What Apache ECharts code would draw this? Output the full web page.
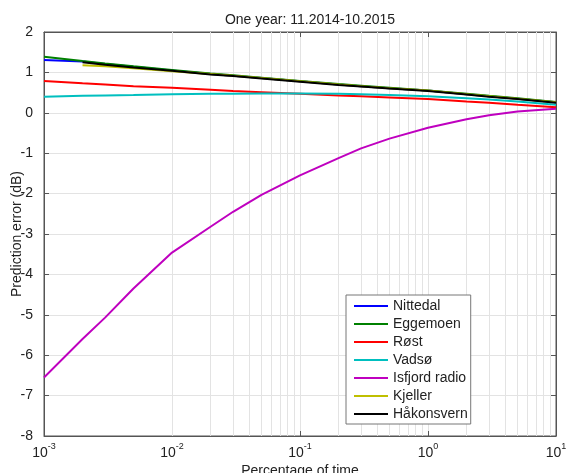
<!DOCTYPE html>
<html>
<head>
<meta charset="utf-8">
<script src="https://cdn.jsdelivr.net/npm/echarts@6/dist/echarts.min.js"></script>
<style>
html,body{margin:0;padding:0;background:#fff;}
#chart{width:568px;height:473px;}
</style>
</head>
<body>
<div id="chart"></div>
<script>
// percentage of time (x, log scale)
var xs = [0.001, 0.002, 0.003, 0.005, 0.01, 0.02, 0.03, 0.05, 0.1, 0.2, 0.3, 0.5, 1, 2, 3, 5, 10];
var names = ['Nittedal', 'Eggemoen', 'Røst', 'Vadsø', 'Isfjord radio', 'Kjeller', 'Håkonsvern'];
var colors = ['#0000ff', '#008000', '#ff0000', '#00bfbf', '#bf00bf', '#bfbf00', '#000000'];

// prediction error (dB) per station
var nittedal  = [1.31, 1.27, 1.21, 1.14, 1.05, 0.96, 0.92, 0.86, 0.78, 0.70, 0.66, 0.61, 0.55, 0.46, 0.41, 0.35, 0.26];
var eggemoen  = [1.39, 1.28, 1.22, 1.15, 1.06, 0.97, 0.93, 0.87, 0.79, 0.71, 0.67, 0.62, 0.55, 0.47, 0.42, 0.36, 0.27];
var rost      = [0.79, 0.73, 0.70, 0.66, 0.62, 0.57, 0.54, 0.51, 0.47, 0.43, 0.41, 0.38, 0.34, 0.28, 0.25, 0.20, 0.14];
var vadso     = [0.40, 0.42, 0.43, 0.44, 0.46, 0.47, 0.47, 0.48, 0.48, 0.47, 0.46, 0.44, 0.41, 0.36, 0.33, 0.28, 0.20];
var isfjord   = [-6.55, -5.60, -5.07, -4.35, -3.46, -2.82, -2.45, -2.03, -1.55, -1.12, -0.88, -0.64, -0.37, -0.16, -0.06, 0.03, 0.10];
var kjeller   = [null, 1.18, 1.15, 1.10, 1.03, 0.96, 0.92, 0.86, 0.78, 0.70, 0.66, 0.61, 0.55, 0.46, 0.41, 0.35, 0.26];
var hakonsvern= [null, 1.25, 1.19, 1.12, 1.04, 0.95, 0.91, 0.85, 0.77, 0.69, 0.65, 0.60, 0.54, 0.45, 0.40, 0.34, 0.25];

var allData = [nittedal, eggemoen, rost, vadso, isfjord, kjeller, hakonsvern];

// minor log grid lines (2..9 per decade)
var minorX = [];
[0.001, 0.01, 0.1, 1].forEach(function(d){
	for (var k = 2; k <= 9; k++) minorX.push(+(d * k).toPrecision(3));
});

var fontFam = '"Liberation Sans", Arial, sans-serif';
var txt = '#222';
var axisCol = '#555';

function pairs(arr){
	var out = [];
	for (var i = 0; i < xs.length; i++){
		if (arr[i] !== null) out.push([xs[i], arr[i]]);
	}
	return out;
}

var series = [{
	name: 'grid',
	type: 'line',
	data: [],
	silent: true,
	z: 1,
	markLine: {
		silent: true,
		z: 1,
		symbol: 'none',
		label: {show: false},
		lineStyle: {color: '#e3e3e3', width: 1, type: 'solid'},
		data: minorX.map(function(v){ return {xAxis: v}; })
	}
}];
for (var i = 0; i < names.length; i++){
	series.push({
		name: names[i],
		type: 'line',
		data: pairs(allData[i]),
		symbol: 'none',
		z: 3 + i,
		lineStyle: {color: colors[i], width: 2},
		itemStyle: {color: colors[i]}
	});
}

var option = {
	animation: false,
	backgroundColor: '#fff',
	textStyle: {fontFamily: fontFam},
	title: {
		text: 'One year: 11.2014-10.2015',
		left: 305,
		top: 8,
		textAlign: 'center',
		textStyle: {fontSize: 14, fontWeight: 'normal', color: txt, fontFamily: fontFam}
	},
	grid: {
		left: 44, right: 12, top: 32, bottom: 37,
		containLabel: false,
		outerBoundsMode: 'none',
		show: true, borderColor: axisCol, borderWidth: 1
	},
	legend: {
		data: names,
		orient: 'vertical',
		left: 346,
		top: 295,
		padding: [4, 3, 3, 8],
		icon: 'rect',
		itemWidth: 34,
		itemHeight: 2,
		itemGap: 4,
		backgroundColor: '#fff',
		borderColor: '#777',
		borderWidth: 1,
		textStyle: {fontSize: 14, lineHeight: 14, color: txt, fontFamily: fontFam}
	},
	xAxis: [{
		type: 'log',
		logBase: 10,
		min: 0.001,
		max: 10,
		name: 'Percentage of time',
		nameLocation: 'middle',
		nameGap: 28,
		nameMoveOverlap: false,
		nameTextStyle: {fontSize: 14, color: txt},
		axisLine: {show: true, onZero: false, lineStyle: {color: axisCol}},
		axisTick: {show: true, inside: true, length: 5, lineStyle: {color: axisCol}},
		splitLine: {show: true, lineStyle: {color: '#e3e3e3'}},
		axisLabel: {
			margin: 6,
			formatter: function(v){
				var e = Math.round(Math.log(v) / Math.LN10);
				return '{b|10}{e|' + e + '}';
			},
			rich: {
				b: {fontSize: 14, color: txt, fontFamily: fontFam, lineHeight: 18, verticalAlign: 'bottom'},
				e: {fontSize: 9, color: txt, fontFamily: fontFam, lineHeight: 18, verticalAlign: 'top'}
			}
		}
	}, {
		type: 'log',
		logBase: 10,
		min: 0.001,
		max: 10,
		position: 'top',
		axisLine: {show: true, onZero: false, lineStyle: {color: axisCol}},
		axisTick: {show: true, inside: true, length: 5, lineStyle: {color: axisCol}},
		axisLabel: {show: false},
		splitLine: {show: false}
	}],
	yAxis: [{
		type: 'value',
		min: -8,
		max: 2,
		interval: 1,
		name: 'Prediction error (dB)',
		nameLocation: 'middle',
		nameGap: 20,
		nameMoveOverlap: false,
		nameTextStyle: {fontSize: 14, color: txt},
		axisLine: {show: true, onZero: false, lineStyle: {color: axisCol}},
		axisTick: {show: true, inside: true, length: 5, lineStyle: {color: axisCol}},
		splitLine: {show: true, lineStyle: {color: '#e3e3e3'}},
		axisLabel: {fontSize: 14, color: txt, margin: 11}
	}, {
		type: 'value',
		min: -8,
		max: 2,
		interval: 1,
		position: 'right',
		axisLine: {show: true, onZero: false, lineStyle: {color: axisCol}},
		axisTick: {show: true, inside: true, length: 5, lineStyle: {color: axisCol}},
		axisLabel: {show: false},
		splitLine: {show: false}
	}],
	series: series
};

var myChart = echarts.init(document.getElementById('chart'));
myChart.setOption(option);
</script>
</body>
</html>
